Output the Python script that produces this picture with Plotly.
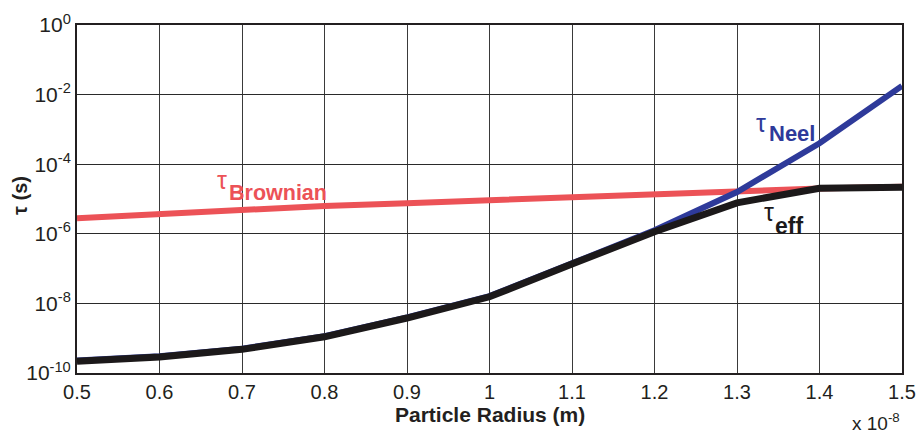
import plotly.graph_objects as go

# Particle radius (units of 1e-8 m)
radius = [0.5, 0.6, 0.7, 0.8, 0.9, 1.0, 1.1, 1.2, 1.3, 1.4, 1.5]
# log10 of relaxation times (s)
log_tau_brownian = [-5.55, -5.43, -5.33, -5.20, -5.12, -5.03, -4.95, -4.86, -4.80, -4.70, -4.65]
log_tau_neel = [-9.64, -9.52, -9.30, -8.94, -8.40, -7.79, -6.85, -5.90, -4.80, -3.40, -1.75]
log_tau_eff = [-9.66, -9.54, -9.32, -8.96, -8.42, -7.81, -6.87, -5.94, -5.11, -4.69, -4.66]

tau_brownian = [10 ** v for v in log_tau_brownian]
tau_neel = [10 ** v for v in log_tau_neel]
tau_eff = [10 ** v for v in log_tau_eff]

x_tickvals = [0.5, 0.6, 0.7, 0.8, 0.9, 1.0, 1.1, 1.2, 1.3, 1.4, 1.5]
x_ticktext = ["0.5", "0.6", "0.7", "0.8", "0.9", "1", "1.1", "1.2", "1.3", "1.4", "1.5"]
y_tickvals = [1e-10, 1e-8, 1e-6, 1e-4, 1e-2, 1e0]
y_ticktext = ["10<sup>-10</sup>", "10<sup>-8</sup>", "10<sup>-6</sup>",
              "10<sup>-4</sup>", "10<sup>-2</sup>", "10<sup>0</sup>"]

RED = "#ec5257"
BLUE = "#2e3a9a"
BLACK = "#1c191a"
FONT = "Liberation Sans, Arial, sans-serif"

fig = go.Figure()
fig.add_trace(go.Scatter(x=radius, y=tau_brownian, mode="lines",
                         line=dict(color=RED, width=6), showlegend=False))
fig.add_trace(go.Scatter(x=radius, y=tau_neel, mode="lines",
                         line=dict(color=BLUE, width=6), showlegend=False))
fig.add_trace(go.Scatter(x=radius, y=tau_eff, mode="lines",
                         line=dict(color=BLACK, width=7), showlegend=False))

fig.update_layout(
    width=919, height=436,
    margin=dict(l=77, r=17, t=25, b=63, autoexpand=False),
    paper_bgcolor="white", plot_bgcolor="white",
    font=dict(family=FONT, color="#231f20"),
    showlegend=False,
)
fig.update_xaxes(
    range=[0.5, 1.5], tickvals=x_tickvals, ticktext=x_ticktext,
    tickfont=dict(size=20, family=FONT, color="#231f20"),
    showgrid=True, gridcolor="#3a3a3a", gridwidth=1,
    showline=True, linecolor="#231f20", linewidth=2, mirror=True,
    ticks="", zeroline=False,
)
fig.update_yaxes(
    type="log", range=[-10, 0], tickvals=y_tickvals, ticktext=y_ticktext,
    tickfont=dict(size=21, family=FONT, color="#231f20"),
    showgrid=True, gridcolor="#2a2a2a", gridwidth=1,
    showline=True, linecolor="#231f20", linewidth=2, mirror=True,
    ticks="", zeroline=False,
)

anns = [
    dict(text="<b>Particle Radius (m)</b>", x=0.5, y=-0.08, xref="paper", yref="paper",
         xanchor="center", yanchor="top", showarrow=False,
         font=dict(size=21, family=FONT, color="#231f20")),
    dict(text="<b>τ (s)</b>", x=-0.069, y=0.509, xref="paper", yref="paper",
         xanchor="center", yanchor="middle", textangle=-90, showarrow=False,
         font=dict(size=20, family=FONT, color="#231f20")),
    dict(text="x 10<sup>-8</sup>", x=1.0, y=-0.1, xref="paper", yref="paper",
         xanchor="right", yanchor="top", showarrow=False,
         font=dict(size=19, family=FONT, color="#231f20")),
]


def label(px, py, txt, color, size):
    # pixel position converted to paper coords
    xp = (px - 77) / (902 - 77)
    yp = (373 - py) / (373 - 25)
    return dict(text=txt, x=xp, y=yp, xref="paper", yref="paper",
                xanchor="left", yanchor="middle", showarrow=False,
                font=dict(size=size, family=FONT, color=color))


anns += [
    label(215, 180, "τ", RED, 25),
    label(227, 193, "<b>Brownian</b>", RED, 21.5),
    label(754, 123, "τ", BLUE, 25),
    label(767, 133, "<b>Neel</b>", BLUE, 22),
    label(762, 212, "τ", BLACK, 25),
    label(773, 226, "<b>eff</b>", BLACK, 23),
]
fig.update_layout(annotations=anns)

fig.write_html("out.html", config={"displayModeBar": False},
               post_script="document.body.style.margin='0';document.body.style.padding='0';")
